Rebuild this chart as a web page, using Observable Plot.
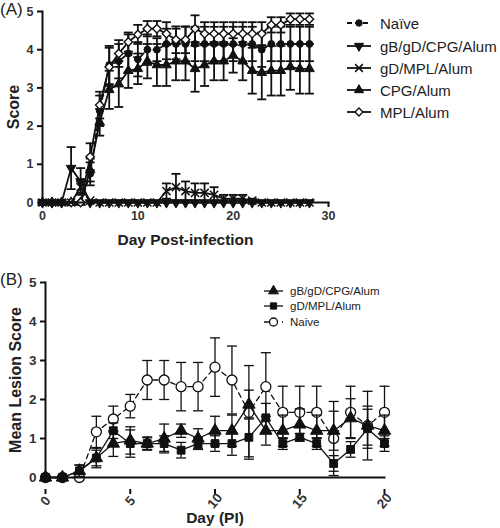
<!DOCTYPE html>
<html><head><meta charset="utf-8">
<script src="https://cdn.jsdelivr.net/npm/d3@7"></script>
<script src="https://cdn.jsdelivr.net/npm/@observablehq/plot@0.6"></script>
<style>
body{margin:0;background:#fff;font-family:Arial,"Liberation Sans",sans-serif;}
#wrap{position:relative;width:500px;height:528px;overflow:hidden;background:#fff}
.panel{position:absolute;left:0}
.plab{position:absolute;left:0;font-size:17px;color:#222;line-height:1}
.row{position:absolute;display:flex;align-items:center;white-space:nowrap;color:#222}
.row svg{display:block}
</style></head><body><div id="wrap"></div>
<script>
// ---------- Panel A data ----------
const daysA = [0,1,2,3,4,5,6,7,8,9,10,11,12,13,14,15,16,17,18,19,20,21,22,23,24,25,26,27,28];
const namesA = ["Naïve","gB/gD/CPG/Alum","gD/MPL/Alum","CPG/Alum","MPL/Alum"];
const naiveA    = [0,0,0,0,0,0.75,2.4,3.6,3.7,3.9,3.75,4.0,4.0,4.15,4.15,4.15,4.15,4.15,4.15,4.15,4.15,4.15,4.15,4.0,4.15,4.15,4.15,4.15,4.15];
const naiveAErr = [0,0,0,0,0,0.3,0.4,0.5,0.45,0.5,0.45,0.4,0.3,0.4,0.4,0.45,0.45,0.45,0.45,0.45,0.45,0.45,0.45,0.45,0.45,0.45,0.45,0.45,0.45];
const gbgdA     = [0,0,0,0.9,0.55,0,0,0,0,0,0,0,0,0,0,0,0,0,0,0,0,0,0,0,0,0,0,0,0];
const gbgdAErr  = [0,0,0,0.55,0.35,0,0,0,0,0,0,0,0,0,0,0,0,0,0,0,0,0,0,0,0,0,0,0,0];
const gdmplA    = [0,0,0,0,0.4,0.05,0,0,0,0,0,0,0,0.3,0.4,0.3,0.25,0.25,0.2,0.1,0.1,0.1,0.05,0,0,0,0,0,0];
const gdmplAErr = [0,0,0,0,0.15,0,0,0,0,0,0,0,0,0.2,0.35,0.25,0.25,0.25,0.2,0.1,0.1,0.1,0.05,0,0,0,0,0,0];
const cpgA      = [0,0,0,0,0,0.85,2.1,2.95,3.1,3.45,3.5,3.7,3.6,3.6,3.7,3.7,3.5,3.6,3.7,3.7,3.85,3.7,3.45,3.4,3.45,3.45,3.55,3.5,3.5];
const cpgAErr   = [0,0,0,0,0,0.3,0.35,0.5,0.6,0.45,0.4,0.45,0.55,0.55,0.5,0.5,0.6,0.55,0.5,0.5,0.45,0.5,0.6,0.7,0.65,0.65,0.6,0.65,0.65];
const mplA      = [0,0,0,0,0,1.2,2.55,3.55,3.9,4.2,4.4,4.55,4.55,4.42,4.26,4.26,4.55,4.42,4.42,4.42,4.42,4.42,4.42,4.42,4.65,4.65,4.8,4.8,4.8];
const mplAErr   = [0,0,0,0,0,0.35,0.35,0.5,0.35,0.25,0.25,0.2,0.2,0.3,0.35,0.35,0.35,0.3,0.3,0.3,0.3,0.3,0.3,0.3,0.2,0.2,0.15,0.15,0.15];
const xTicksA = [0,10,20,30];
const yTicks = [0,1,2,3,4,5];

// ---------- Panel B data ----------
const daysB = [0,1,2,3,4,5,6,7,8,9,10,11,12,13,14,15,16,17,18,19,20];
const namesB = ["gB/gD/CPG/Alum","gD/MPL/Alum","Naive"];
const triB    = [0,0,0.17,0.5,0.87,0.95,0.87,1.0,1.2,1.0,1.2,1.2,1.87,1.2,1.2,1.36,1.2,1.2,1.52,1.33,1.2];
const triBErr = [0,0,0.15,0.25,0.33,0.35,0.17,0.37,0.17,0.25,0.37,0.4,0.37,0.37,0.4,0.4,0.4,0.5,0.5,0.5,0.4];
const sqB     = [0,0,0.17,0.5,1.2,0.87,0.87,0.87,0.7,0.87,0.87,0.87,1.03,1.53,0.87,1.03,0.87,0.36,0.72,1.25,0.87];
const sqBErr  = [0,0,0.15,0.2,0.2,0.35,0.15,0.2,0.2,0.15,0.2,0.3,0.5,0.37,0.15,0.1,0.15,0.2,0.2,0.5,0.2];
const naiveB    = [0,0,0,1.17,1.5,1.83,2.5,2.5,2.33,2.33,2.83,2.5,1.67,2.33,1.67,1.67,1.67,1.0,1.67,1.33,1.67];
const naiveBErr = [0,0,0,0.4,0.33,0.3,0.5,0.5,0.62,0.62,0.75,0.87,1.2,0.87,0.67,0.67,0.67,0.95,0.67,0.88,0.67];
const xTicksB = [0,5,10,15,20];

// ---------- helpers ----------
const rows = (days, vals, errs) => days.map((d,i)=>({day:d, v:vals[i], e:errs[i]}));
const capSym = {draw(ctx,size){const w=Math.sqrt(size/Math.PI); ctx.moveTo(-w,0); ctx.lineTo(w,0);}};
const triDown = {draw(ctx,size){const s3=Math.sqrt(3); const y=-Math.sqrt(size/(s3*3));
  ctx.moveTo(0,-2*y); ctx.lineTo(-s3*y,y); ctx.lineTo(s3*y,y); ctx.closePath();}};
const INK = "#111";
const fmt = d => String(d);
function seriesMarks(data, st){
  const eb = data.filter(d=>d.e>0);
  return [
    Plot.ruleX(eb, {x:"day", y1:d=>Math.max(0,d.v-d.e), y2:d=>d.v+d.e, stroke:INK, strokeWidth:st.ew}),
    Plot.dot(eb, {x:"day", y:d=>d.v+d.e, symbol:capSym, r:st.cap, stroke:INK, strokeWidth:st.ew}),
    Plot.dot(eb.filter(d=>d.v-d.e>0), {x:"day", y:d=>d.v-d.e, symbol:capSym, r:st.cap, stroke:INK, strokeWidth:st.ew}),
    Plot.line(data, {x:"day", y:"v", stroke:INK, strokeWidth:st.lw, strokeDasharray:st.dash||null}),
    Plot.dot(data, {x:"day", y:"v", symbol:st.symbol, r:st.r, fill:st.fill, stroke:INK, strokeWidth:st.sw})
  ];
}
const font = "Arial, 'Liberation Sans', sans-serif";
const wrap = document.getElementById("wrap");

// ---------- Panel A ----------
const stylesA = [
  {symbol:"circle", r:3.4, fill:INK, sw:1, lw:1.8, ew:1.8, cap:4.5, dash:"5,3"},
  {symbol:triDown, r:3.6, fill:INK, sw:1, lw:1.8, ew:1.8, cap:4.5},
  {symbol:"times", r:3.8, fill:"none", sw:1.5, lw:1.8, ew:1.8, cap:4.5},
  {symbol:"triangle", r:3.6, fill:INK, sw:1, lw:1.8, ew:1.8, cap:4.5},
  {symbol:"diamond2", r:3.8, fill:"#fff", sw:1.4, lw:1.8, ew:1.8, cap:4.5}
];
const dataA = [rows(daysA,naiveA,naiveAErr), rows(daysA,gbgdA,gbgdAErr), rows(daysA,gdmplA,gdmplAErr), rows(daysA,cpgA,cpgAErr), rows(daysA,mplA,mplAErr)];
const order = [3,0,4,2,1];
const plotA = Plot.plot({
  width:500, height:255, marginLeft:42, marginRight:172, marginTop:11, marginBottom:53,
  style:{fontFamily:font, background:"transparent", overflow:"visible"},
  x:{domain:[0,30]}, y:{domain:[0,5]},
  marks:[
    ...order.flatMap(i=>seriesMarks(dataA[i], stylesA[i])),
    Plot.frame({anchor:"left", stroke:INK, strokeWidth:2}),
    Plot.frame({anchor:"bottom", stroke:INK, strokeWidth:2}),
    Plot.axisX({ticks:xTicksA, tickFormat:fmt, tickSize:5, strokeWidth:2, stroke:INK, fill:"#333", fontSize:12.5, fontWeight:"bold", label:null}),
    Plot.axisY({ticks:yTicks, tickFormat:fmt, tickSize:5, strokeWidth:2, stroke:INK, fill:"#333", fontSize:12.5, fontWeight:"bold", label:null}),
    Plot.text(["Score"], {frameAnchor:"left", rotate:-90, dx:-29, fontSize:16, fontWeight:"bold", fill:"#222", textAnchor:"middle"}),
    Plot.text(["Day Post-infection"], {frameAnchor:"bottom", dy:38, fontSize:15.5, fontWeight:"bold", fill:"#222", lineAnchor:"middle"})
  ]
});
plotA.classList.add("panel"); plotA.style.top="0px";
wrap.appendChild(plotA);

// ---------- Panel B ----------
const stylesB = [
  {symbol:"triangle", r:4.6, fill:INK, sw:1, lw:1.3, ew:1.3, cap:5},
  {symbol:"square", r:4.4, fill:INK, sw:1, lw:1.3, ew:1.3, cap:5},
  {symbol:"circle", r:5, fill:"#fff", sw:1.3, lw:1.3, ew:1.3, cap:5, dash:"5,4"}
];
const dataB = [rows(daysB,triB,triBErr), rows(daysB,sqB,sqBErr), rows(daysB,naiveB,naiveBErr)];
const plotB = Plot.plot({
  width:500, height:273, marginLeft:45, marginRight:116, marginTop:27, marginBottom:51,
  style:{fontFamily:font, background:"transparent", overflow:"visible"},
  x:{domain:[0,20]}, y:{domain:[0,5]},
  marks:[
    ...[2,0,1].flatMap(i=>seriesMarks(dataB[i], stylesB[i])),
    Plot.frame({anchor:"left", stroke:INK, strokeWidth:2}),
    Plot.frame({anchor:"bottom", stroke:INK, strokeWidth:2}),
    Plot.axisX({ticks:xTicksB, tickFormat:fmt, tickSize:5, strokeWidth:2, stroke:INK, fill:"#333", fontSize:13.5, fontWeight:"bold", label:null,
      tickRotate:-50, textAnchor:"middle", lineAnchor:"middle", dy:12}),
    Plot.axisY({ticks:yTicks, tickFormat:fmt, tickSize:5, strokeWidth:2, stroke:INK, fill:"#333", fontSize:13.5, fontWeight:"bold", label:null}),
    Plot.text(["Mean Lesion Score"], {frameAnchor:"left", rotate:-90, dx:-30, fontSize:16, fontWeight:"bold", fill:"#222", textAnchor:"middle"}),
    Plot.text(["Day (PI)"], {frameAnchor:"bottom", dy:41, fontSize:15.5, fontWeight:"bold", fill:"#222", lineAnchor:"middle"})
  ]
});
plotB.classList.add("panel"); plotB.style.top="255px";
wrap.appendChild(plotB);

// ---------- panel letters ----------
for (const [t,top] of [["(A)",1],["(B)",271]]) {
  const d=document.createElement("div"); d.className="plab"; d.textContent=t; d.style.top=top+"px"; wrap.appendChild(d);
}

// ---------- legends ----------
function symPath(sym, r){
  const size = Math.PI*r*r;
  if (sym===triDown) { const p=d3.path(); triDown.draw(p,size); return p.toString(); }
  const map = {circle:d3.symbolCircle, triangle:d3.symbolTriangle, square:d3.symbolSquare, times:d3.symbolTimes||d3.symbolCross, diamond2:d3.symbolDiamond2||d3.symbolDiamond};
  return d3.symbol(map[sym], size)();
}
function legend(names, styles, x, tops, lineW, fontSize, gap, k){
  names.forEach((n,i)=>{
    const st=styles[i];
    const row=document.createElement("div"); row.className="row";
    row.style.left=x+"px"; row.style.top=(tops[i]-10)+"px"; row.style.height="20px"; row.style.fontSize=fontSize+"px";
    const cx=lineW/2;
    row.innerHTML=`<svg width="${lineW}" height="20"><line x1="0" x2="${lineW}" y1="10" y2="10" stroke="${INK}" stroke-width="${st.lw}" ${st.dash?`stroke-dasharray="${st.dash}"`:""}/>`+
      `<path transform="translate(${cx},10)" d="${symPath(st.symbol, st.r*k)}" fill="${st.fill}" stroke="${INK}" stroke-width="${st.sw}"/></svg>`+
      `<span style="margin-left:${gap}px">${n}</span>`;
    wrap.appendChild(row);
  });
}
legend(namesA, stylesA, 347, [23,46,68,90,112], 24, 15, 9, 0.95);
legend(namesB, stylesB, 264, [291,306,322], 19, 11.5, 7, 0.8);
</script>
</body></html>
